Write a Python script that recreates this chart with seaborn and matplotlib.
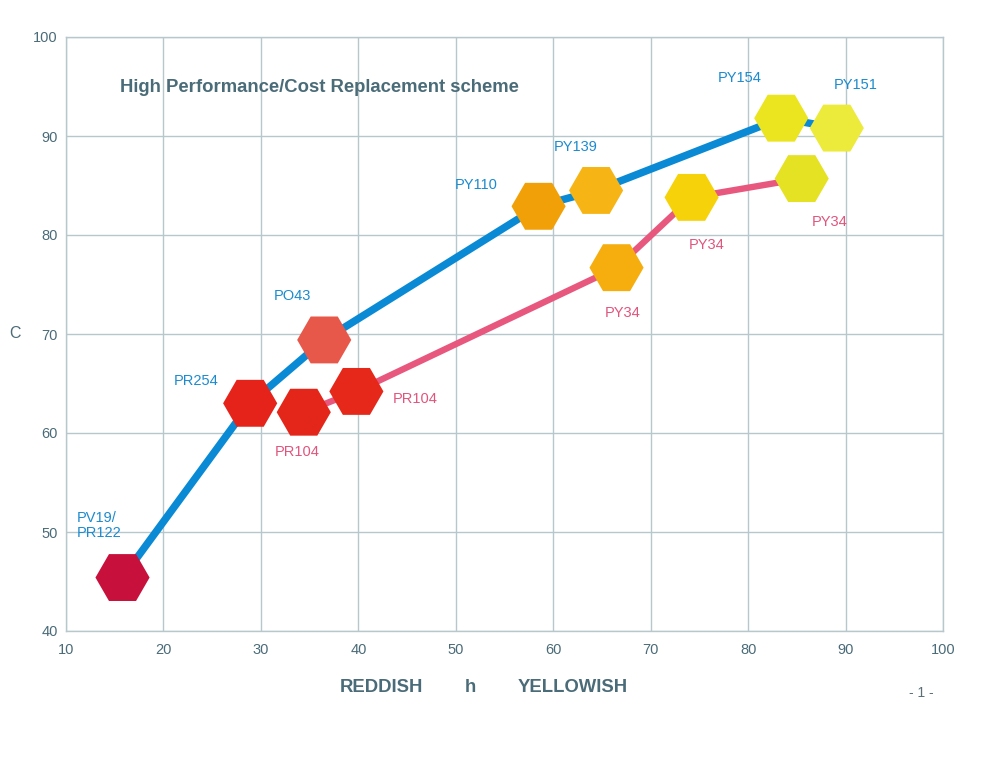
import matplotlib
matplotlib.use("Agg")
import matplotlib.pyplot as plt
import seaborn as sns
import pandas as pd

# ---- data ----
blue_names = ["PV19/\nPR122", "PR254", "PO43", "PY110", "PY139", "PY154", "PY151"]
blue_h = [15.8, 28.9, 36.5, 58.5, 64.4, 83.4, 89.1]
blue_c = [45.4, 63.0, 69.4, 82.9, 84.5, 91.8, 90.8]
blue_colors = ["#C8103C", "#E6231A", "#E8584A", "#F2A007", "#F7B415", "#EAE51E", "#ECEA3A"]

pink_names = ["PR104", "PR104", "PY34", "PY34", "PY34"]
pink_h = [34.4, 39.8, 66.5, 74.2, 85.5]
pink_c = [62.1, 64.2, 76.7, 83.8, 85.7]
pink_colors = ["#E4261A", "#E5281A", "#F5AE0D", "#F5D20A", "#E5E224"]

x_ticks = [10, 20, 30, 40, 50, 60, 70, 80, 90, 100]
y_ticks = [40, 50, 60, 70, 80, 90, 100]

title_text = "High Performance/Cost Replacement scheme"

# ---- style ----
AX = "#4A6B78"
GRID = "#B7C7CC"
BLUE = "#0A8AD4"
PINK = "#E8577E"
BLUE_TXT = "#1B8BCF"
PINK_TXT = "#E0557D"

sns.set_theme(style="white")
plt.rcParams["font.family"] = ["Liberation Sans", "DejaVu Sans"]

fig = plt.figure(figsize=(9.94, 7.68), dpi=100)
ax = fig.add_axes([66 / 994, 1 - 631 / 768, 877 / 994, 594 / 768])

blue_df = pd.DataFrame({"h": blue_h, "c": blue_c, "id": [f"b{i}" for i in range(len(blue_h))]})
pink_df = pd.DataFrame({"h": pink_h, "c": pink_c, "id": [f"p{i}" for i in range(len(pink_h))]})

sns.lineplot(data=blue_df, x="h", y="c", sort=False, color=BLUE, lw=5.4, ax=ax, zorder=2)
sns.lineplot(data=pink_df, x="h", y="c", sort=False, color=PINK, lw=4.6, ax=ax, zorder=2)

sns.scatterplot(data=pink_df, x="h", y="c", hue="id",
                palette=dict(zip(pink_df["id"], pink_colors)),
                marker="H", s=1520, linewidth=0, legend=False, ax=ax, zorder=3)
sns.scatterplot(data=blue_df, x="h", y="c", hue="id",
                palette=dict(zip(blue_df["id"], blue_colors)),
                marker="H", s=1520, linewidth=0, legend=False, ax=ax, zorder=3)

# label offsets in pixels (relative to hexagon centre)
blue_off = [(-46, 52, "left"), (-54, 22, "center"), (-32, 44, "center"), (-62, 21, "center"),
            (-20, 43, "center"), (-42, 40, "center"), (19, 43, "center")]
pink_off = [(-7, -40, "center"), (59, -8, "center"), (6, -45, "center"),
            (15, -48, "center"), (28, -43, "center")]

for name, x, y, (dx, dy, ha) in zip(blue_names, blue_h, blue_c, blue_off):
    ax.annotate(name, (x, y), xytext=(dx, dy), textcoords="offset pixels",
                ha=ha, va="center", color=BLUE_TXT, fontsize=10.5, linespacing=1.1, zorder=4)
for name, x, y, (dx, dy, ha) in zip(pink_names, pink_h, pink_c, pink_off):
    ax.annotate(name, (x, y), xytext=(dx, dy), textcoords="offset pixels",
                ha=ha, va="center", color=PINK_TXT, fontsize=10.5, zorder=4)

ax.set_xlim(10, 100)
ax.set_ylim(40, 100)
ax.set_xticks(x_ticks)
ax.set_yticks(y_ticks)
ax.grid(True, color=GRID, lw=1.0)
ax.set_axisbelow(True)
for sp in ax.spines.values():
    sp.set_color(GRID)
    sp.set_linewidth(1.0)
ax.tick_params(axis="both", length=0, colors=AX, labelsize=10.5)
ax.tick_params(axis="x", pad=9)
ax.tick_params(axis="y", pad=6)
ax.set_xlabel("")
ax.set_ylabel("")

ax.text(0.0617, 0.9158, title_text, transform=ax.transAxes, ha="left", va="center",
        fontsize=13.3, fontweight="bold", color=AX)

fig.text(15 / 994, 1 - 333 / 768, "C", ha="center", va="center", fontsize=11.5, color=AX)
fig.text(340 / 994, 1 - 687 / 768, "REDDISH", ha="left", va="center", fontsize=13.3,
         fontweight="bold", color=AX)
fig.text(470.7 / 994, 1 - 687 / 768, "h", ha="center", va="center", fontsize=13.3,
         fontweight="bold", color=AX)
fig.text(518 / 994, 1 - 687 / 768, "YELLOWISH", ha="left", va="center", fontsize=13.3,
         fontweight="bold", color=AX)
fig.text(921.7 / 994, 1 - 693 / 768, "- 1 -", ha="center", va="center", fontsize=10,
         color="#5A6E76")

fig.savefig("out.png", dpi=100)
